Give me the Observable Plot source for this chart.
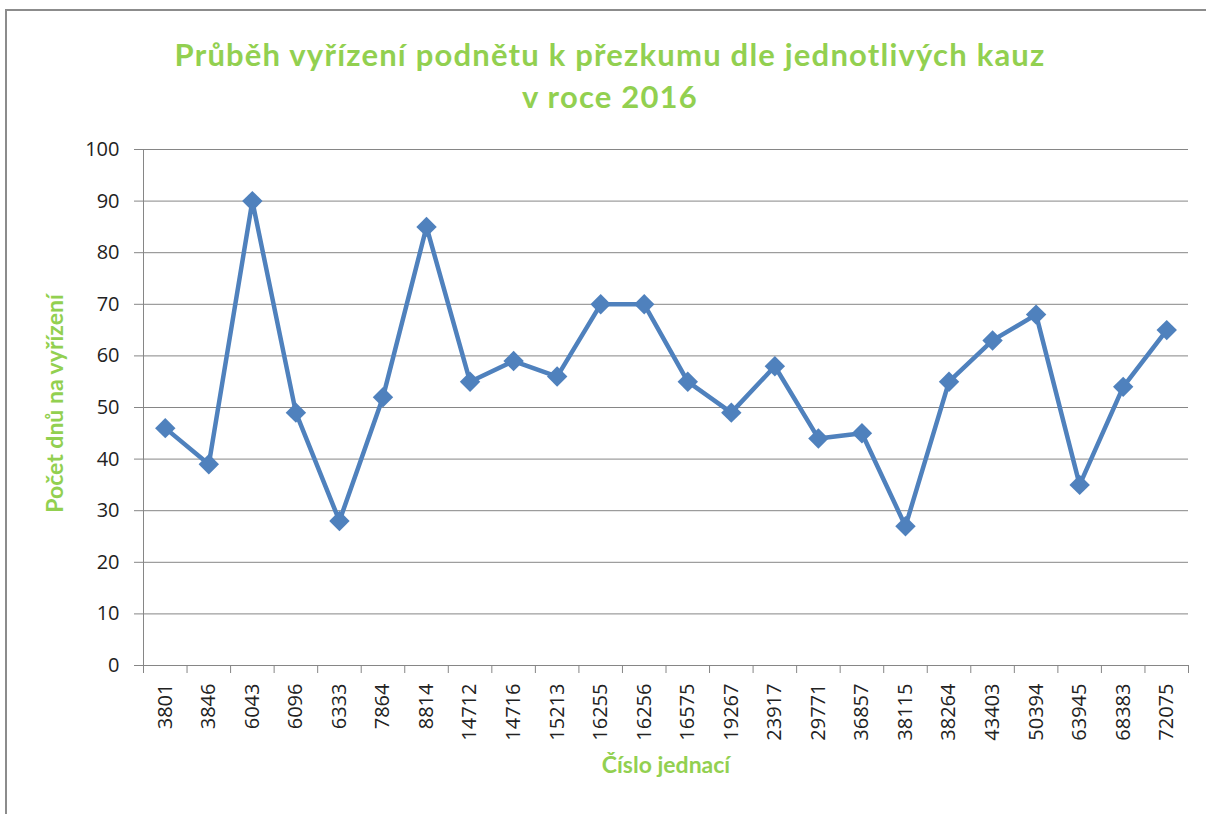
<!DOCTYPE html>
<html><head><meta charset="utf-8">
<script src="https://cdn.jsdelivr.net/npm/d3@7"></script>
<script src="https://cdn.jsdelivr.net/npm/@observablehq/plot@0.6"></script>
<style>
body{margin:0;background:#fff;}
#wrap{position:relative;width:1206px;height:814px;overflow:hidden;background:#fff;}
#frame{position:absolute;left:5px;top:9px;width:1300px;height:900px;border-top:2px solid #8c8c8c;border-left:2px solid #8c8c8c;pointer-events:none;}
#title{position:relative;width:1206px;height:130px;}
.tl{position:absolute;left:14px;width:1192px;text-align:center;font-family:Lato,"Open Sans",sans-serif;font-weight:bold;font-size:31px;letter-spacing:1.2px;line-height:42px;color:#92D050;white-space:nowrap;}
#chart svg{display:block;}
</style>
</head><body>
<div id="wrap">
  <div id="title">
    <div class="tl" style="top:33px">Průběh vyřízení podnětu k přezkumu dle jednotlivých kauz</div>
    <div class="tl" style="top:75px">v roce 2016</div>
  </div>
  <div id="chart"></div>
  <div id="frame"></div>
</div>
<script>
const cases = ["3801","3846","6043","6096","6333","7864","8814","14712","14716","15213","16255","16256","16575","19267","23917","29771","36857","38115","38264","43403","50394","63945","68383","72075"];
const days = [46,39,90,49,28,52,85,55,59,56,70,70,55,49,58,44,45,27,55,63,68,35,54,65];
const yTicks = [0,10,20,30,40,50,60,70,80,90,100];
const yLabel = "Počet dnů na vyřízení";
const xLabel = "Číslo jednací";

const data = cases.map((c, i) => ({c, d: days[i], i}));
const green = "#92D050", blue = "#4F81BD", grid = "#868686";

const chart = Plot.plot({
  width: 1206, height: 684,
  marginLeft: 143, marginRight: 18, marginTop: 19, marginBottom: 149,
  style: {fontFamily: "'Open Sans', sans-serif", fontSize: "20px", color: "#222", background: "transparent", overflow: "visible"},
  x: {type: "linear", domain: [0, cases.length]},
  y: {domain: [0, 100]},
  marks: [
    Plot.ruleY(yTicks.filter(v => v > 0), {stroke: grid, strokeWidth: 1}),
    Plot.axisY({ticks: yTicks, tickSize: 9, tickPadding: 15, stroke: grid, strokeOpacity: 1, label: null, fontSize: 20}),
    Plot.ruleX([0], {stroke: grid}),
    Plot.ruleY([0], {stroke: grid}),
    Plot.axisX({ticks: d3.range(0, cases.length + 1), tickFormat: () => "", tickSize: 8, stroke: grid, strokeOpacity: 1, label: null}),
    Plot.axisX({ticks: cases.map((c, i) => i + 0.5), tickFormat: v => cases[Math.floor(v)], tickSize: 0, tickPadding: 18, tickRotate: -90, label: null, fontSize: 20}),
    Plot.line(data, {x: d => d.i + 0.5, y: "d", stroke: blue, strokeWidth: 4.5}),
    Plot.dot(data, {x: d => d.i + 0.5, y: "d", symbol: "diamond2", r: 9.2, fill: blue, stroke: "none"}),
    Plot.text([yLabel], {frameAnchor: "left", textAnchor: "middle", dx: -88, dy: -4, rotate: -90, fill: green, fontWeight: "bold", fontSize: 23, fontFamily: "Lato, 'Open Sans', sans-serif", letterSpacing: "1.1px"}),
    Plot.text([xLabel], {frameAnchor: "bottom", dy: 107, fill: green, fontWeight: "bold", fontSize: 23, fontFamily: "Lato, 'Open Sans', sans-serif", letterSpacing: "0.6px"})
  ]
});
document.getElementById("chart").appendChild(chart);
</script>
</body></html>
